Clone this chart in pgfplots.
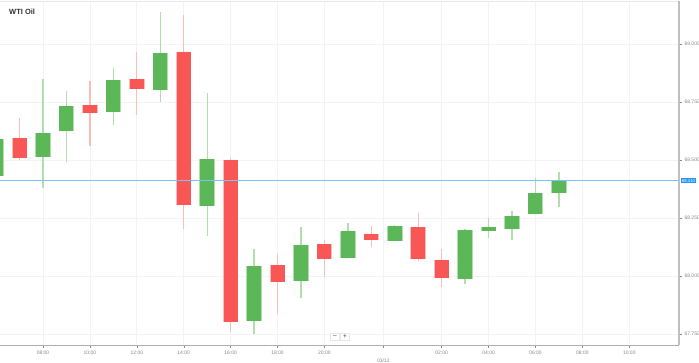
\documentclass[border=0pt]{standalone}
\usepackage{fontspec}
\setmainfont{Liberation Sans}
\usepackage{pgfplots}
\pgfplotsset{compat=1.18}
\usepackage{pgfplotstable}
\definecolor{cgreen}{RGB}{92,183,88}
\definecolor{cgreenlt}{RGB}{178,222,172}
\definecolor{cred}{RGB}{249,86,86}
\definecolor{credlt}{RGB}{250,188,188}
\definecolor{gridc}{RGB}{243,243,243}
\definecolor{topc}{RGB}{232,232,232}
\definecolor{axc}{RGB}{175,175,175}
\definecolor{tickc}{RGB}{135,135,135}
\definecolor{titlec}{RGB}{50,50,50}
\definecolor{pline}{RGB}{122,194,245}
\definecolor{pbox}{RGB}{40,150,240}

% k = candle index (0 = 08:00 of 03/11)
\pgfplotstableread{
k open high low close
-2 68.431 68.700 68.400 68.591
0 68.514 68.848 68.381 68.618
1 68.624 68.799 68.490 68.731
3 68.708 68.898 68.650 68.846
5 68.802 69.137 68.749 68.961
7 68.300 68.787 68.174 68.504
9 67.807 68.115 67.751 68.043
11 67.977 68.213 67.906 68.132
13 68.076 68.227 68.076 68.193
15 68.152 68.220 68.152 68.216
18 67.987 68.203 67.966 68.197
19 68.193 68.251 68.162 68.213
20 68.204 68.281 68.154 68.260
21 68.266 68.421 68.266 68.359
22 68.356 68.450 68.296 68.411
}\greentab

\pgfplotstableread{
k open high low close
-1 68.595 68.681 68.500 68.509
2 68.737 68.839 68.560 68.701
4 68.850 68.967 68.694 68.807
6 68.967 69.125 68.203 68.306
8 68.500 68.509 67.757 67.803
10 68.046 68.094 67.835 67.973
12 68.137 68.155 67.996 68.073
14 68.182 68.217 68.124 68.156
16 68.213 68.273 68.065 68.072
17 68.068 68.115 67.954 67.993
}\redtab

\begin{document}
\begin{tikzpicture}
\begin{axis}[
  scale only axis, width=679pt, height=344pt,
  xmin=-1.834, xmax=27.12, ymin=67.7026, ymax=69.1853,
  axis line style={draw=none},
  xtick={0,2,4,6,8,10,12,17,19,21,23,25},
  xticklabels={08:00,10:00,12:00,14:00,16:00,18:00,20:00,02:00,04:00,06:00,08:00,10:00},
  extra x ticks={14.51},
  extra x tick labels={03/12},
  extra x tick style={grid=major, tick label style={yshift=-8pt}},
  ytick={67.75,68,68.25,68.5,68.75,69},
  ytick pos=right, yticklabel pos=right,
  xtick pos=bottom,
  grid=major, grid style={gridc, line width=0.7pt},
  tick style={tickc, line width=0.4pt},
  tick align=outside, major tick length=2.5pt,
  tick label style={font=\fontsize{5}{6}\selectfont, text=tickc},
  xticklabel style={yshift=0.5pt},
  yticklabel style={xshift=-0.5pt},
  /pgf/number format/fixed, /pgf/number format/fixed zerofill,
  /pgf/number format/precision=3, /pgf/number format/assume math mode=true,
]
% wicks
\addplot[forget plot, draw=none, error bars/.cd, y dir=minus, y explicit, error mark=none,
  error bar style={draw=cgreenlt, line width=1.3pt}]
  table[x=k, y=high, y error expr=\thisrow{high}-\thisrow{low}] {\greentab};
\addplot[forget plot, draw=none, error bars/.cd, y dir=minus, y explicit, error mark=none,
  error bar style={draw=credlt, line width=1.3pt}]
  table[x=k, y=high, y error expr=\thisrow{high}-\thisrow{low}] {\redtab};
% bodies (outer border)
\addplot[forget plot, draw=none, error bars/.cd, y dir=minus, y explicit, error mark=none,
  error bar style={draw=cgreenlt, line width=15.5pt}]
  table[x=k, y=close, y error expr=\thisrow{close}-\thisrow{open}] {\greentab};
\addplot[forget plot, draw=none, error bars/.cd, y dir=plus, y explicit, error mark=none,
  error bar style={draw=credlt, line width=15.5pt}]
  table[x=k, y=close, y error expr=\thisrow{open}-\thisrow{close}] {\redtab};
% bodies (fill)
\addplot[forget plot, draw=none, error bars/.cd, y dir=minus, y explicit, error mark=none,
  error bar style={draw=cgreen, line width=14pt}]
  table[x=k, y=close, y error expr=\thisrow{close}-\thisrow{open}] {\greentab};
\addplot[forget plot, draw=none, error bars/.cd, y dir=plus, y explicit, error mark=none,
  error bar style={draw=cred, line width=14pt}]
  table[x=k, y=close, y error expr=\thisrow{open}-\thisrow{close}] {\redtab};
% current price line
\addplot[forget plot, pline, line width=0.8pt] coordinates {(-1.834,68.411) (27.12,68.411)};
\coordinate (pl) at (axis cs:27.12,68.411);
\end{axis}
% frame lines
\draw[topc, line width=0.8pt] (0,344pt) -- (679pt,344pt);
\draw[axc, line width=0.8pt] (0,0) -- (679pt,0);
\draw[axc!80, line width=1.3pt] (679pt,0) -- (679pt,344pt);
% price label
\node[fill=pbox, text=white, font=\fontsize{4.3}{5}\selectfont, inner xsep=1.2pt, inner ysep=1pt, anchor=west] at ([xshift=1.5pt]pl) {68.410};
% title
\node[anchor=west, font=\bfseries\fontsize{7.5}{9}\selectfont, text=titlec, inner sep=0pt] at (9pt,333pt) {WTI Oil};
% zoom buttons
\node[draw=topc, fill=white, minimum width=9pt, minimum height=7.5pt, inner sep=0pt, font=\fontsize{6.5}{6}\selectfont, text=titlec] at (335pt,8.5pt) {–};
\node[draw=topc, fill=white, minimum width=9pt, minimum height=7.5pt, inner sep=0pt, font=\fontsize{6.5}{6}\selectfont, text=titlec] at (345pt,8.5pt) {+};
\pgfresetboundingbox
\useasboundingbox (0,-17pt) rectangle (699pt,345pt);
\end{tikzpicture}
\end{document}
